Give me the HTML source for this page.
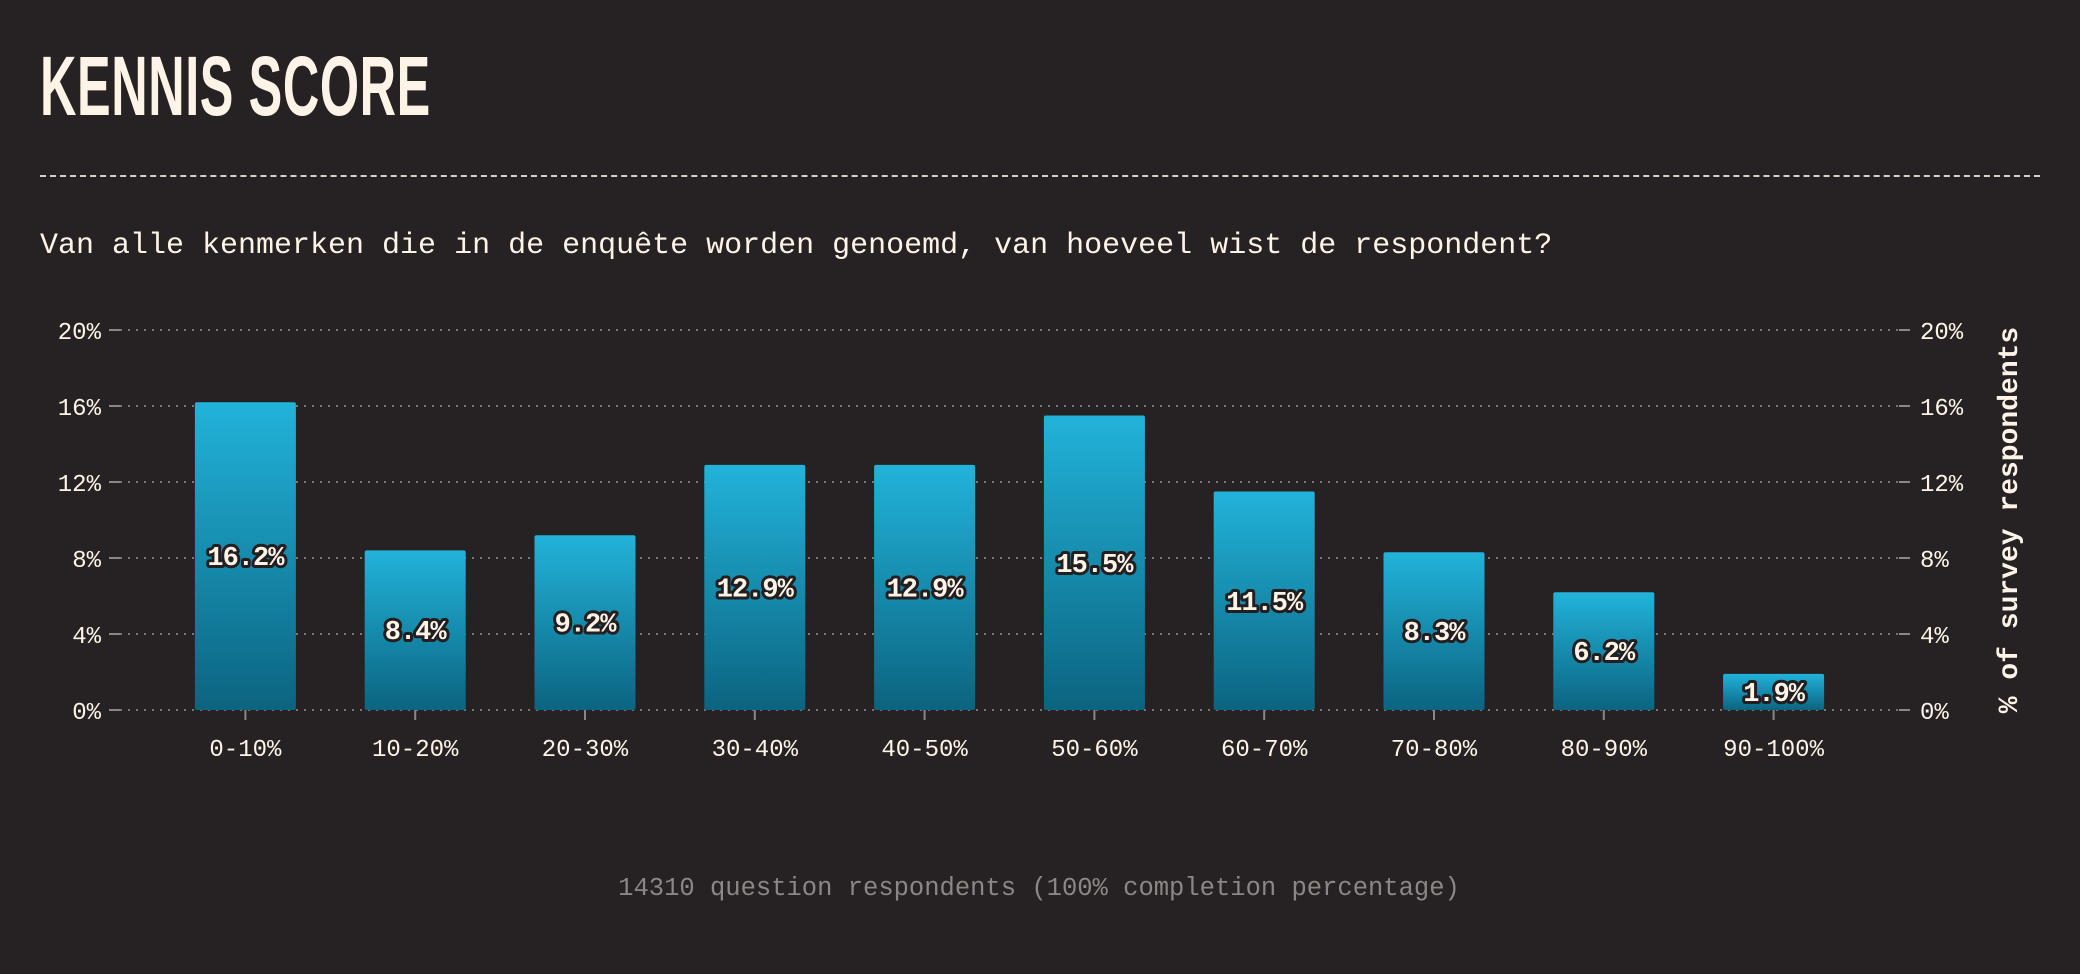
<!DOCTYPE html>
<html><head><meta charset="utf-8"><style>
html,body{margin:0;padding:0;background:#262223;}
body{width:2080px;height:974px;position:relative;overflow:hidden;font-family:"Liberation Mono",monospace;color:#fdf3e7;}
#title{position:absolute;left:40px;top:44px;font-family:"Liberation Sans",sans-serif;font-weight:bold;font-size:84px;line-height:84px;transform:scaleX(0.60);transform-origin:left top;letter-spacing:1px;}
#rule{position:absolute;left:40px;top:175px;width:2000px;border-top:2px dashed #d8d0c8;}
#subtitle{position:absolute;left:40px;top:228px;font-size:30px;line-height:36px;white-space:pre;}
#footer{position:absolute;left:0;width:2078px;text-align:center;top:874px;font-size:25.5px;color:#8c8686;}
svg{position:absolute;left:0;top:0;}
</style></head><body>
<div id="title">KENNIS SCORE</div>
<div id="rule"></div>
<div id="subtitle">Van alle kenmerken die in de enquête worden genoemd, van hoeveel wist de respondent?</div>
<svg id="chart" width="2080" height="974">
<defs><linearGradient id="g" x1="0" y1="0" x2="0" y2="1"><stop offset="0" stop-color="#22b3da"/><stop offset="1" stop-color="#0b6480"/></linearGradient></defs>
</svg>
<div id="footer">14310 question respondents (100% completion percentage)</div>
<script>
const categories = ["0-10%","10-20%","20-30%","30-40%","40-50%","50-60%","60-70%","70-80%","80-90%","90-100%"];
const values = [16.2, 8.4, 9.2, 12.9, 12.9, 15.5, 11.5, 8.3, 6.2, 1.9];
const ticks = [0, 4, 8, 12, 16, 20];
const valueLabels = ["16.2%","8.4%","9.2%","12.9%","12.9%","15.5%","11.5%","8.3%","6.2%","1.9%"];

const NS = "http://www.w3.org/2000/svg";
const svg = document.getElementById('chart');
const y0 = 710, y1 = 330, yMax = 20;
const y = v => y0 - (v / yMax) * (y0 - y1);
const xStart = 245.4, step = 169.8, bw = 101;
const x = i => xStart + i * step;
function mk(tag, attrs, parent) {
  const e = document.createElementNS(NS, tag);
  for (const k in attrs) e.setAttribute(k, attrs[k]);
  (parent || svg).appendChild(e);
  return e;
}
ticks.forEach(t => {
  const g = mk('g', {});
  
  
  mk('line', {x1: 120, x2: 1900, y1: y(t), y2: y(t), stroke: '#7a7676', 'stroke-width': 2, 'stroke-dasharray': '2 6'}, g);
  mk('line', {x1: 109, x2: 120, y1: y(t), y2: y(t), stroke: '#8a8686', 'stroke-width': 2}, g);
  mk('line', {x1: 1899, x2: 1910, y1: y(t), y2: y(t), stroke: '#8a8686', 'stroke-width': 2}, g);
  const l = mk('text', {x: 101, y: y(t) + 9, 'text-anchor': 'end', fill: '#fdf3e7', 'font-size': 24, 'font-family': '"Liberation Mono",monospace'}, g);
  l.textContent = t + '%';
  
  
  const r = mk('text', {x: 1920, y: y(t) + 9, fill: '#fdf3e7', 'font-size': 24, 'font-family': '"Liberation Mono",monospace'}, g);
  r.textContent = t + '%';
  
  
});
categories.forEach((c, i) => {
  const cx = x(i);
  const b = mk('rect', {x: cx - bw / 2, y: y(values[i]), width: bw, height: y0 - y(values[i]), rx: 2, fill: 'url(#g)'});
  
  
  const tk = mk('line', {x1: cx, x2: cx, y1: y0, y2: y0 + 10, stroke: '#8a8686', 'stroke-width': 2});
  
  
  const cl = mk('text', {x: cx, y: 756, 'text-anchor': 'middle', fill: '#fdf3e7', 'font-size': 24, 'font-family': '"Liberation Mono",monospace'});
  cl.textContent = c;
  
  
  const vl = mk('text', {x: cx, y: y(values[i] / 2) + 9, 'text-anchor': 'middle', fill: '#fdf3e7', 'font-size': 27, 'font-weight': 'bold', 'font-family': '"Liberation Mono",monospace', stroke: '#231f20', 'stroke-width': 6, 'paint-order': 'stroke', 'stroke-linejoin': 'round', 'letter-spacing': '-1'});
  vl.textContent = valueLabels[i];
  
  
});
const at = mk('text', {x: 0, y: 0, 'text-anchor': 'middle', fill: '#fdf3e7', 'font-size': 28, 'font-weight': 'bold', 'font-family': '"Liberation Mono",monospace', transform: 'translate(2017,520) rotate(-90)'});
at.textContent = '% of survey respondents';


</script>
</body></html>
